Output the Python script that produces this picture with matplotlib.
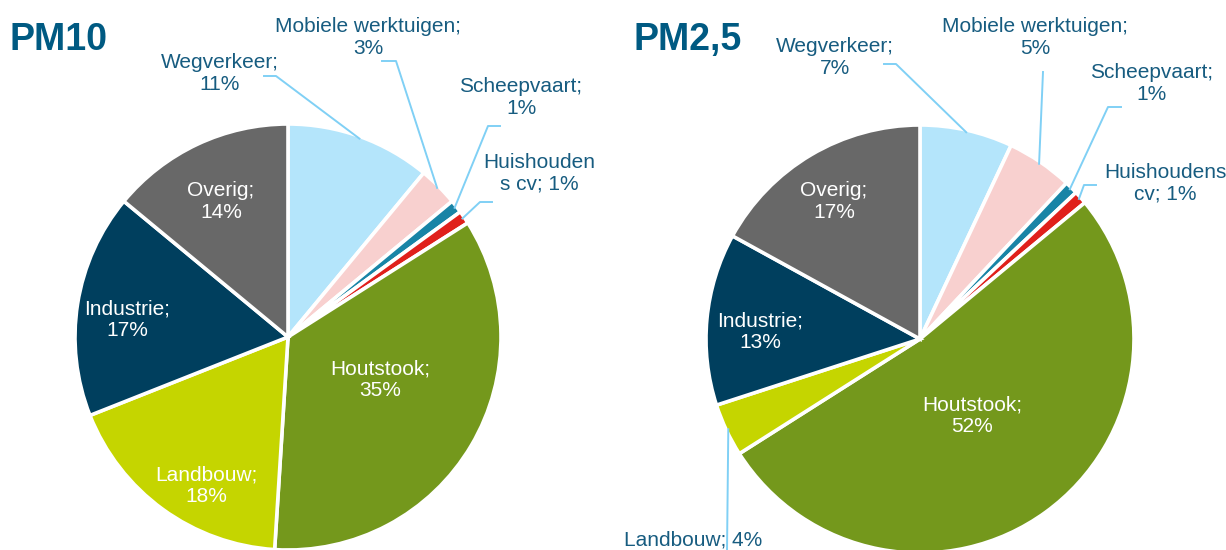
import matplotlib.pyplot as plt
import numpy as np

plt.rcParams['font.family'] = ['Liberation Sans', 'DejaVu Sans']

# emission sources, clockwise from the top of each pie
sources = ['Wegverkeer', 'Mobiele werktuigen', 'Scheepvaart', 'Huishoudens cv',
           'Houtstook', 'Landbouw', 'Industrie', 'Overig']
pm10_shares = [11, 3, 1, 1, 35, 18, 17, 14]
pm25_shares = [7, 5, 1, 1, 52, 4, 13, 17]

pm10_label_fmt = ['Wegverkeer;\n{}%', 'Mobiele werktuigen;\n{}%', 'Scheepvaart;\n{}%',
                  'Huishouden\ns cv; {}%', 'Houtstook;\n{}%', 'Landbouw;\n{}%',
                  'Industrie;\n{}%', 'Overig;\n{}%']
pm25_label_fmt = ['Wegverkeer;\n{}%', 'Mobiele werktuigen;\n{}%', 'Scheepvaart;\n{}%',
                  'Huishoudens\ncv; {}%', 'Houtstook;\n{}%', 'Landbouw; {}%',
                  'Industrie;\n{}%', 'Overig;\n{}%']

colors = ['#B4E5FB', '#F8D0CF', '#1884A6', '#E0201B',
          '#74981C', '#C5D500', '#003F5E', '#686868']
TEXT_BLUE = '#175C80'
TITLE_BLUE = '#005A82'
LEADER = '#80D0F5'

# layout in pixels (y measured downwards)
charts = [
    dict(title='PM10', title_xy=(9, 40), shares=pm10_shares, fmt=pm10_label_fmt,
         center=(288, 337), radius=213,
         label_xy=[(220, 73), (368, 37), (521, 98), (539, 173),
                   (380, 380), (206, 486), (127, 320), (221, 201)],
         inside=[False, False, False, False, True, True, True, True],
         leaders=[[(264, 76), (276, 76)], [(382, 61), (396, 61)],
                  [(500, 126), (488, 126)], [(492, 202), (480, 202)],
                  None, None, None, None]),
    dict(title='PM2,5', title_xy=(634, 40), shares=pm25_shares, fmt=pm25_label_fmt,
         center=(920, 339), radius=214,
         label_xy=[(835, 58), (1035, 37), (1152, 84), (1165, 183),
                   (972, 416), (693, 540), (760, 332), (834, 201)],
         inside=[False, False, False, False, True, False, True, True],
         leaders=[[(884, 64), (896, 64)], [(1043, 72)],
                  [(1121, 107), (1108, 107)], [(1096, 185), (1084, 185)],
                  None, [(727, 552)], None, None]),
]

fig = plt.figure(figsize=(12.26, 5.5), dpi=100)
ax = fig.add_axes([0, 0, 1, 1])

for ch in charts:
    shares = ch['shares']
    cx, cy = ch['center']
    r = ch['radius']
    # y axis is inverted, so counterclockwise in data runs clockwise on screen
    ax.pie(shares, colors=colors, startangle=-90, counterclock=True,
           center=(cx, cy), radius=r, frame=True,
           wedgeprops=dict(edgecolor='white', linewidth=2.6))

    ax.text(ch['title_xy'][0], ch['title_xy'][1], ch['title'], fontsize=27,
            fontweight='bold', color=TITLE_BLUE, ha='left', va='center')

    cum = np.cumsum([0] + shares)
    for i, v in enumerate(shares):
        mid = (cum[i] + cum[i + 1]) / 2 / sum(shares) * 2 * np.pi
        ex = cx + r * 0.99 * np.sin(mid)
        ey = cy - r * 0.99 * np.cos(mid)
        if ch['leaders'][i] is not None:
            pts = ch['leaders'][i] + [(ex, ey)]
            xs, ys = zip(*pts)
            ax.plot(xs, ys, color=LEADER, lw=1.4, zorder=3)
        lx, ly = ch['label_xy'][i]
        ax.text(lx, ly, ch['fmt'][i].format(v), fontsize=15,
                color='white' if ch['inside'][i] else TEXT_BLUE,
                ha='center', va='center', linespacing=1.2, zorder=4)

ax.set_xlim(0, 1226)
ax.set_ylim(550, 0)
ax.axis('off')

fig.savefig('out.png', dpi=100, facecolor='white')
